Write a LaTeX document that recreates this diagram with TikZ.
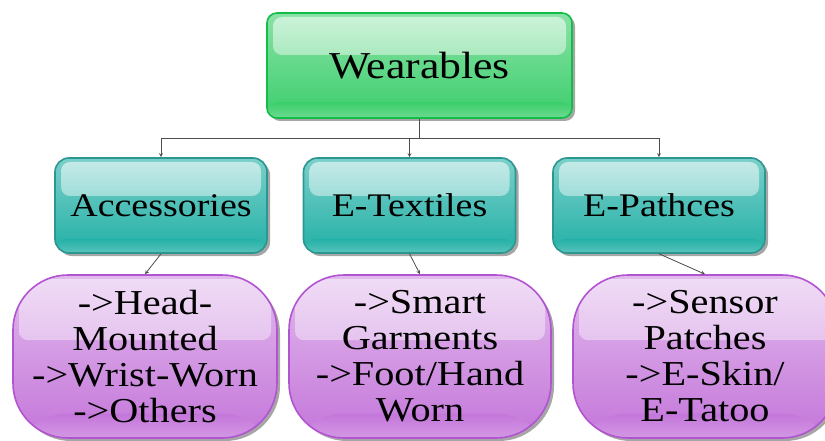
\documentclass[tikz,border=0pt]{standalone}
\usepackage{fontspec}
\setmainfont{Liberation Serif}[FakeStretch=1.15]
\usetikzlibrary{arrows, shadows, calc}

\definecolor{wgreen}{RGB}{60,206,108}
\definecolor{wgreenline}{RGB}{18,190,72}
\definecolor{wteal}{RGB}{34,176,166}
\definecolor{wtealline}{RGB}{44,150,144}
\definecolor{wpurple}{RGB}{196,118,218}
\definecolor{wpurpleline}{RGB}{178,84,210}

\begin{document}
\begin{tikzpicture}[
  x=1pt, y=-1pt, >=stealth,
  gloss/.style={path picture={
    \shade[top color=white!75!#1, bottom color=#1!70!white, rounded corners=9pt]
      ([xshift=6pt,yshift=-4pt]path picture bounding box.north west) rectangle
      ($(path picture bounding box.north east)!0.4!(path picture bounding box.south east)+(-6pt,0)$);
    \shade[top color=#1, bottom color=#1!75!white]
      ($(path picture bounding box.south west)!0.15!(path picture bounding box.north west)$) rectangle
      (path picture bounding box.south east);
  }},
  base/.style={rectangle, draw, line width=1.6pt, align=center, inner sep=2pt,
    drop shadow={shadow xshift=3pt, shadow yshift=-3pt, opacity=0.35, fill=black}},
  root/.style={base, draw=wgreenline, top color=wgreen!60!white, bottom color=wgreen, gloss=wgreen,
    rounded corners=10pt, minimum width=305pt, minimum height=105pt, font=\fontsize{38}{40}\selectfont},
  cat/.style={base, draw=wtealline, top color=wteal!60!white, bottom color=wteal, gloss=wteal,
    rounded corners=14pt, minimum width=212pt, minimum height=95pt, font=\fontsize{33}{35}\selectfont},
  leaf/.style={base, draw=wpurpleline, top color=wpurple!50!white, bottom color=wpurple, gloss=wpurple,
    rounded corners=55pt, minimum width=264pt, minimum height=163pt, font=\fontsize{35}{36}\selectfont},
  link/.style={->, draw=black!70, line width=0.8pt},
]
  \useasboundingbox (0,0) rectangle (825,441);
  \clip (0,0) rectangle (825,441);

  \node[root] (wear) at (419.5,65.5) {Wearables};

  \node[cat] (acc) at (161,205.5) {Accessories};
  \node[cat] (etex) at (409.5,205.5) {E-Textiles};
  \node[cat] (epat) at (659,205.5) {E-Pathces};

  \node[leaf] (accl) at (145,356.5) {->Head-\\Mounted\\->Wrist-Worn\\->Others};
  \node[leaf, minimum width=262pt] (etexl) at (420,356.5) {->Smart\\Garments\\->Foot/Hand\\Worn};
  \node[leaf] (epatl) at (705,356.5) {->Sensor\\Patches\\->E-Skin/\\E-Tatoo};

  \draw[link] (wear.south) -- ++(0,20) -| (acc.north);
  \draw[link] (wear.south) -- ++(0,20) -| (etex.north);
  \draw[link] (wear.south) -- ++(0,20) -| (epat.north);

  \draw[link] (acc.south) -- (accl.north);
  \draw[link] (etex.south) -- (etexl.north);
  \draw[link] (epat.south) -- (epatl.north);
\end{tikzpicture}
\end{document}
